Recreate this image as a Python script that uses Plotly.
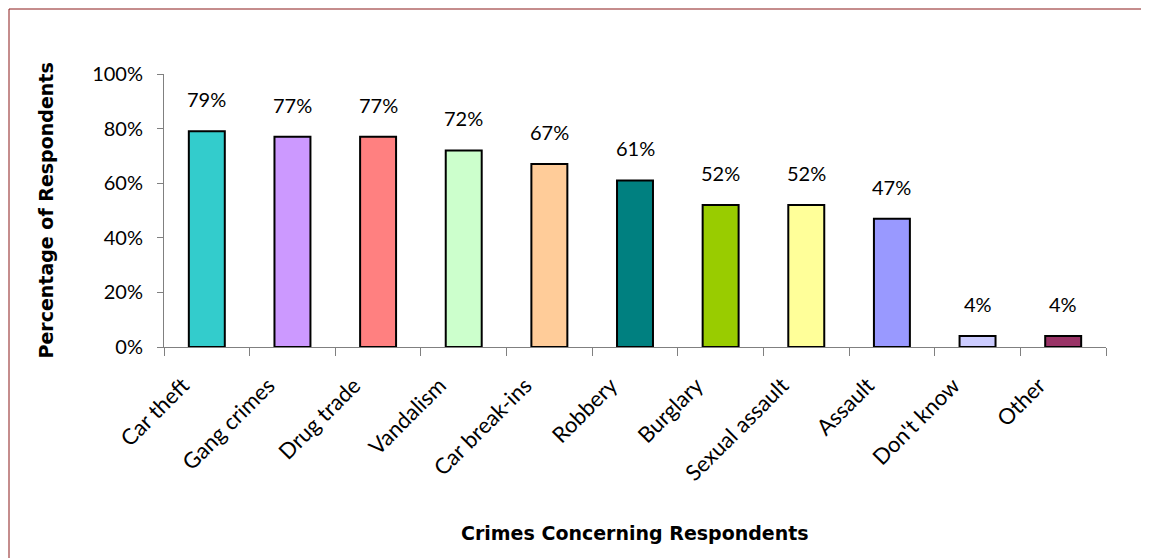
import plotly.graph_objects as go

# chart data
crimes = ["Car theft", "Gang crimes", "Drug trade", "Vandalism", "Car break-ins",
          "Robbery", "Burglary", "Sexual assault", "Assault", "Don't know", "Other"]
percent = [79, 77, 77, 72, 67, 61, 52, 52, 47, 4, 4]
bar_colors = ["#33CCCC", "#CC99FF", "#FF8080", "#CCFFCC", "#FFCC99", "#008080",
              "#99CC00", "#FFFF99", "#9999FF", "#CCCCFF", "#993366"]
y_ticks = [0, 20, 40, 60, 80, 100]
y_tick_text = [f"{v}%" for v in y_ticks]

FONT = "Lato, sans-serif"
BOLD = "DejaVu Sans, sans-serif"

W, H = 1149, 558
ML, MR, MT, MB = 156, 51, 66, 219
PW, PH = W - ML - MR, H - MT - MB

fig = go.Figure()
fig.add_trace(go.Bar(
    x=crimes,
    y=percent,
    width=0.42,
    marker=dict(color=bar_colors, line=dict(color="black", width=2)),
    hoverinfo="x+y",
))

# value labels floating above each bar
for c, p in zip(crimes, percent):
    fig.add_annotation(x=c, y=p, text=f"{p}%", showarrow=False,
                       yanchor="bottom", yshift=18,
                       font=dict(family=FONT, size=20, color="black"))

# axis titles
fig.add_annotation(xref="paper", yref="paper", x=(627 - ML) / PW, y=(MT + PH - 525) / PH,
                   xanchor="center", yanchor="middle",
                   text="<b>Crimes Concerning Respondents</b>", showarrow=False,
                   font=dict(family=BOLD, size=19, color="black"))
fig.add_annotation(xref="paper", yref="paper", x=(37 - ML) / PW, y=0.5, textangle=-90,
                   xanchor="center", yanchor="middle",
                   text="<b>Percentage of Respondents</b>", showarrow=False,
                   font=dict(family=BOLD, size=19, color="black"))

# dark red frame round the chart
fig.add_shape(type="rect", xref="paper", yref="paper",
              x0=-(ML - 1) / PW, x1=1.3, y0=-2.0, y1=1 + (MT - 1) / PH,
              line=dict(color="#8B1A1A", width=1), layer="below")

fig.update_xaxes(
    showline=True, linecolor="#808080", linewidth=1,
    ticks="outside", tickson="boundaries", ticklen=8, tickcolor="#808080",
    tickangle=-45, tickfont=dict(family=FONT, size=22, color="black"),
    ticklabelstandoff=16, ticklabelshift=-24,
    showgrid=False,
)
fig.update_yaxes(
    range=[0, 100], tickvals=y_ticks, ticktext=y_tick_text,
    showline=True, linecolor="#808080", linewidth=1,
    ticks="outside", ticklen=6, tickcolor="#808080",
    tickfont=dict(family=FONT, size=20, color="black"),
    ticklabelstandoff=10,
    showgrid=False, zeroline=False,
)

fig.update_layout(
    width=W, height=H,
    margin=dict(l=ML, r=MR, t=MT, b=MB, autoexpand=False),
    plot_bgcolor="white", paper_bgcolor="white",
    showlegend=False,
)

fig.write_html("out.html")
